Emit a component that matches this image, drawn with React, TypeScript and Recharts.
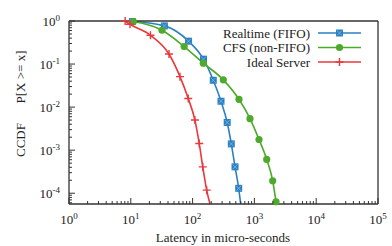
import React from 'react';
import { LineChart, Line, XAxis, YAxis } from 'recharts';

// ---- data (latency in micro-seconds, CCDF P[X >= x]) ----
const realtimeLatency = [10.6, 35, 86, 150, 216, 288, 363, 423, 486, 557, 600];
const realtimeCcdf = [0.97, 0.77, 0.34, 0.13, 0.042, 0.0137, 0.0044, 0.0014, 0.00041, 0.00013, 0.0000562];

const cfsLatency = [11, 32, 73, 149, 314, 563, 849, 1187, 1582, 1977, 2237];
const cfsCcdf = [0.97, 0.61, 0.255, 0.105, 0.043, 0.0152, 0.0054, 0.00177, 0.00061, 0.000195, 0.000063];

const idealLatency = [8.1, 9.7, 20.8, 41.5, 62.5, 85, 109, 128, 146, 169, 191];
const idealCcdf = [1.0, 0.84, 0.466, 0.171, 0.051, 0.0158, 0.005, 0.00143, 0.00041, 0.000118, 0.0000562];

const seriesNames = ['Realtime (FIFO)', 'CFS (non-FIFO)', 'Ideal Server'];
const xTickExponents = [0, 1, 2, 3, 4, 5];
const yTickExponents = [0, -1, -2, -3, -4];

const X_MIN = 1;
const X_MAX = 100000;
const Y_MIN = 0.0000562;
const Y_MAX = 1;

// ---- styles ----
const W = 392;
const H = 246;
const PLOT_TOP = 21;
const PLOT_BOTTOM = 204;
const PLOT_RIGHT = 378;
const LEFT_W = 69;
const BOTTOM_H = 42;
const FONT = '"Liberation Serif", "Times New Roman", "DejaVu Serif", serif';
const AXIS_COLOR = '#333';
const TEXT_COLOR = '#222';
const COLORS = ['#2b80c2', '#4eaa2c', '#e8393c'];

const toData = (xs: number[], ys: number[]) => xs.map((x, i) => ({ latency: x, ccdf: ys[i] }));
const realtimeData = toData(realtimeLatency, realtimeCcdf);
const cfsData = toData(cfsLatency, cfsCcdf);
const idealData = toData(idealLatency, idealCcdf);

const xTicks: number[] = [];
for (let d = 0; d < 5; d++) {
  for (let m = 1; m <= 9; m++) xTicks.push(m * Math.pow(10, d));
}
xTicks.push(100000);

const yTicks: number[] = [];
for (let k = 0; k <= 5; k++) {
  for (let m = 1; m <= 9; m++) {
    const v = Number((m * Math.pow(10, -k)).toPrecision(6));
    if (v >= Y_MIN && v <= Y_MAX) yTicks.push(v);
  }
}

const isMajor = (v: number) => {
  const l = Math.log10(v);
  return Math.abs(l - Math.round(l)) < 1e-9;
};

const Pow = ({ exp }: { exp: number }) => (
  <>
    <tspan>10</tspan>
    <tspan dy={-5} fontSize={9}>{exp}</tspan>
  </>
);

const textStyle = { fontFamily: FONT };

const BottomTick = (props: any) => {
  const { x, y, payload } = props;
  const v = payload.value;
  const major = isMajor(v);
  const exp = Math.round(Math.log10(v));
  return (
    <g>
      <line x1={x} x2={x} y1={y} y2={y - (major ? 6 : 3)} stroke={AXIS_COLOR} strokeWidth={1} />
      {major && xTickExponents.includes(exp) && (
        <text x={x} y={y + 20} textAnchor="middle" style={textStyle} fontSize={13} fill={TEXT_COLOR}>
          <Pow exp={exp} />
        </text>
      )}
    </g>
  );
};

const TopTick = (props: any) => {
  const { x, y, payload } = props;
  const major = isMajor(payload.value);
  return <line x1={x} x2={x} y1={y} y2={y + (major ? 6 : 3)} stroke={AXIS_COLOR} strokeWidth={1} />;
};

const LeftTick = (props: any) => {
  const { x, y, payload } = props;
  const v = payload.value;
  const major = isMajor(v);
  const exp = Math.round(Math.log10(v));
  return (
    <g>
      <line x1={x} x2={x + (major ? 6 : 3)} y1={y} y2={y} stroke={AXIS_COLOR} strokeWidth={1} />
      {major && yTickExponents.includes(exp) && (
        <text x={x - 9} y={y + 5} textAnchor="end" style={textStyle} fontSize={13} fill={TEXT_COLOR}>
          <Pow exp={exp} />
        </text>
      )}
    </g>
  );
};

const RightTick = (props: any) => {
  const { x, y, payload } = props;
  const major = isMajor(payload.value);
  return <line x1={x} x2={x - (major ? 6 : 3)} y1={y} y2={y} stroke={AXIS_COLOR} strokeWidth={1} />;
};

const Marker = ({ kind, cx, cy, color }: { kind: number; cx: number; cy: number; color: string }) => {
  if (kind === 0) {
    return (
      <g>
        <rect x={cx - 3.5} y={cy - 3.5} width={7} height={7} fill={color} />
        <path d={`M${cx - 2.5},${cy - 2.5}L${cx + 2.5},${cy + 2.5}M${cx - 2.5},${cy + 2.5}L${cx + 2.5},${cy - 2.5}`} stroke="#7fb8e6" strokeWidth={0.8} />
      </g>
    );
  }
  if (kind === 1) {
    return <circle cx={cx} cy={cy} r={3.6} fill={color} />;
  }
  return (
    <path d={`M${cx - 4},${cy}L${cx + 4},${cy}M${cx},${cy - 4}L${cx},${cy + 4}`} stroke={color} strokeWidth={1.4} />
  );
};

const makeDot = (kind: number) => (props: any) => {
  const { cx, cy, payload, index } = props;
  if (cx == null || cy == null || payload.ccdf <= Y_MIN * 1.0001) return <g key={`d-${kind}-${index}`} />;
  return (
    <g key={`d-${kind}-${index}`}>
      <Marker kind={kind} cx={cx} cy={cy} color={COLORS[kind]} />
    </g>
  );
};

export default function App() {
  const series = [realtimeData, cfsData, idealData];
  return (
    <div style={{ position: 'absolute', left: 0, top: 0, width: W, height: H, background: '#fff' }}>
      <LineChart
        width={W}
        height={H}
        margin={{ top: PLOT_TOP - 1, right: W - PLOT_RIGHT - 1, left: 0, bottom: H - PLOT_BOTTOM - BOTTOM_H }}
      >
        <XAxis
          dataKey="latency"
          type="number"
          scale="log"
          domain={[X_MIN, X_MAX]}
          ticks={xTicks}
          interval={0}
          tickSize={0}
          tickMargin={0}
          tickLine={false}
          height={BOTTOM_H}
          axisLine={{ stroke: AXIS_COLOR, strokeWidth: 1.3 }}
          tick={<BottomTick />}
        />
        <XAxis
          xAxisId="top"
          orientation="top"
          dataKey="latency"
          type="number"
          scale="log"
          domain={[X_MIN, X_MAX]}
          ticks={xTicks}
          interval={0}
          tickSize={0}
          tickMargin={0}
          tickLine={false}
          height={1}
          axisLine={{ stroke: AXIS_COLOR, strokeWidth: 1.3 }}
          tick={<TopTick />}
        />
        <YAxis
          dataKey="ccdf"
          type="number"
          scale="log"
          domain={[Y_MIN, Y_MAX]}
          ticks={yTicks}
          interval={0}
          tickSize={0}
          tickMargin={0}
          tickLine={false}
          width={LEFT_W}
          axisLine={{ stroke: AXIS_COLOR, strokeWidth: 1.3 }}
          tick={<LeftTick />}
        />
        <YAxis
          yAxisId="right"
          orientation="right"
          dataKey="ccdf"
          type="number"
          scale="log"
          domain={[Y_MIN, Y_MAX]}
          ticks={yTicks}
          interval={0}
          tickSize={0}
          tickMargin={0}
          tickLine={false}
          width={1}
          axisLine={{ stroke: AXIS_COLOR, strokeWidth: 1.3 }}
          tick={<RightTick />}
        />
        {series.map((d, i) => (
          <Line
            key={seriesNames[i]}
            data={d}
            dataKey="ccdf"
            name={seriesNames[i]}
            type="monotone"
            stroke={COLORS[i]}
            strokeWidth={1.6}
            dot={makeDot(i)}
            activeDot={false}
            isAnimationActive={false}
          />
        ))}
      </LineChart>
      <svg width={W} height={H} style={{ position: 'absolute', left: 0, top: 0, pointerEvents: 'none' }}>
        {seriesNames.map((n, i) => {
          const y = 33 + i * 14.5;
          return (
            <g key={n}>
              <text x={310} y={y + 4.5} textAnchor="end" style={textStyle} fontSize={13} fill={TEXT_COLOR}>
                {n}
              </text>
              <line x1={318} x2={361} y1={y} y2={y} stroke={COLORS[i]} strokeWidth={1.6} />
              <Marker kind={i} cx={339.5} cy={y} color={COLORS[i]} />
            </g>
          );
        })}
        <text x={223} y={242} textAnchor="middle" style={textStyle} fontSize={13} fill={TEXT_COLOR}>
          Latency in micro-seconds
        </text>
        <text transform="translate(25,77) rotate(-90)" textAnchor="middle" style={textStyle} fontSize={13} fill={TEXT_COLOR}>
          P[X &gt;= x]
        </text>
        <text transform="translate(25,140) rotate(-90)" textAnchor="middle" style={textStyle} fontSize={13} fill={TEXT_COLOR}>
          CCDF
        </text>
      </svg>
    </div>
  );
}
